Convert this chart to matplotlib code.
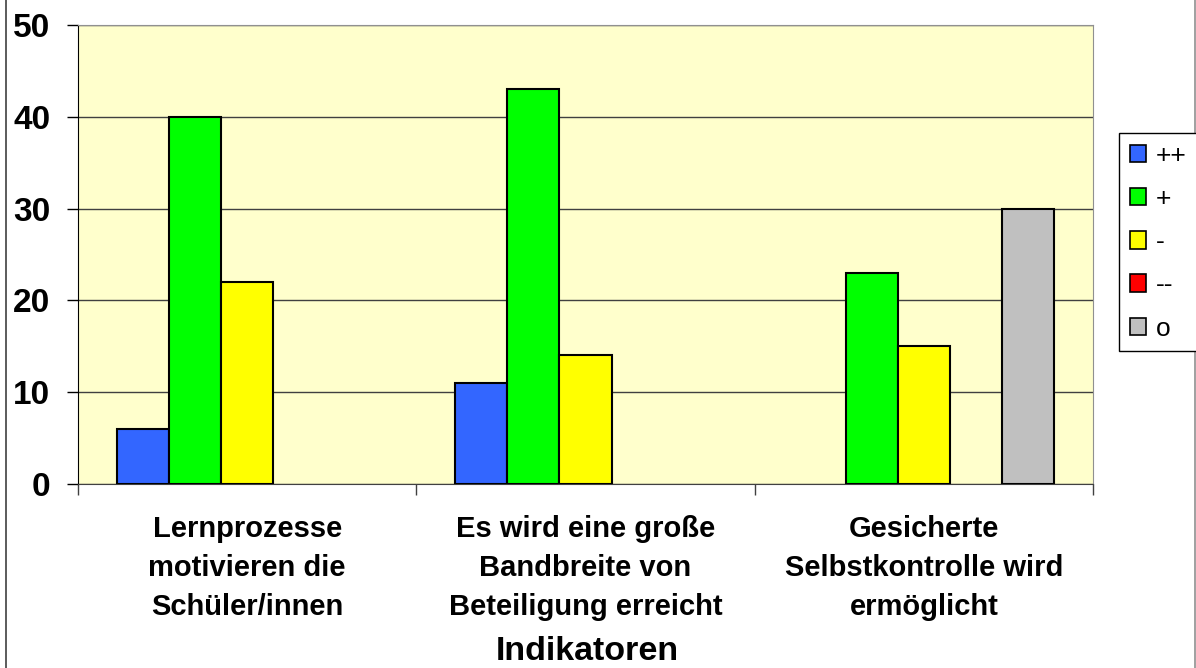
import matplotlib
matplotlib.use("Agg")
import matplotlib.pyplot as plt
import numpy as np
from matplotlib.patches import Patch
from matplotlib.lines import Line2D

plt.rcParams['font.family'] = ['Liberation Sans', 'DejaVu Sans']

categories = ["Lernprozesse\nmotivieren die\nSchüler/innen",
              "Es wird eine große\nBandbreite von\nBeteiligung erreicht",
              "Gesicherte\nSelbstkontrolle wird\nermöglicht"]
series = ["++", "+", "-", "--", "o"]
values = [[6, 11, 0],
          [40, 43, 23],
          [22, 14, 15],
          [0, 0, 0],
          [0, 0, 30]]
colors = ["#3366FF", "#00FF00", "#FFFF00", "#FF0000", "#C0C0C0"]

W, H = 1196, 668
fig = plt.figure(figsize=(W / 100, H / 100), dpi=100)
ax = fig.add_axes([78 / W, 1 - 484 / H, (1093 - 78) / W, (484 - 25) / H])
ax.set_facecolor("#FFFFCC")

x = np.arange(len(categories)) + 0.5
w = 1 / 6.5
for i, (name, vals, c) in enumerate(zip(series, values, colors)):
    edges = ["black" if v > 0 else "none" for v in vals]
    ax.bar(x + (i - 2) * w, vals, width=w, color=c, edgecolor=edges,
           linewidth=1.5, label=name, zorder=3)

ax.set_xlim(0, 3)
ax.set_ylim(0, 50)
ax.set_yticks([0, 10, 20, 30, 40, 50])
ax.yaxis.grid(True, color="#404040", linewidth=1, zorder=0)
ax.tick_params(axis="y", length=8, width=1, pad=12, labelsize=24)
for t in ax.get_yticklabels():
    t.set_fontweight("bold")

ax.set_xticks(x)
ax.set_xticklabels(categories, fontsize=21, fontweight="bold", linespacing=1.5)
ax.set_xticks([0, 1, 2, 3], minor=True)
ax.tick_params(axis="x", which="major", length=0, pad=22)
ax.tick_params(axis="x", which="minor", length=8, width=1, color="#404040")

ax.spines["left"].set_color("black")
ax.spines["bottom"].set_color("#404040")
ax.spines["top"].set_color("#909090")
ax.spines["right"].set_color("#909090")

fig.text(587 / W, 1 - 651 / H, "Indikatoren", fontsize=24.5, fontweight="bold",
         ha="center", va="center")

handles = [Patch(facecolor=c, edgecolor="black", linewidth=1.2) for c in colors]
leg = fig.legend(handles, series, loc="upper left",
                 bbox_to_anchor=(1119 / W, 1 - 133 / H), borderaxespad=0,
                 fontsize=19, handlelength=0.64, handleheight=0.64,
                 handletextpad=0.35, labelspacing=0.73, borderpad=0.4,
                 fancybox=False, framealpha=1, edgecolor="black")
leg.get_frame().set_linewidth(1)

# outer chart border
fig.add_artist(Line2D([6 / W, 6 / W], [0, 1], color="#404040", linewidth=1.2))
fig.add_artist(Line2D([1195 / W, 1195 / W], [0, 1], color="#909090", linewidth=1.2))

fig.savefig("out.png", dpi=100)
